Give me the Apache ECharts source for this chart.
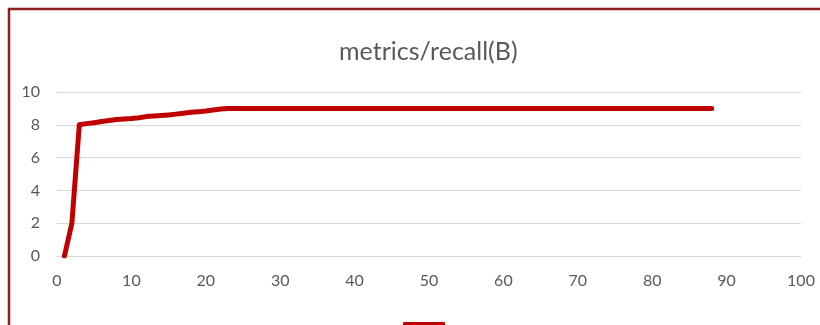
<!DOCTYPE html>
<html>
<head>
<meta charset="utf-8">
<script src="https://cdn.jsdelivr.net/npm/echarts@6/dist/echarts.min.js"></script>
<style>
  html, body { margin: 0; padding: 0; background: #fff; }
  #chart { width: 820px; height: 325px; }
</style>
</head>
<body>
<div id="chart"></div>
<script>
// Epoch numbers and recall values (scaled 0–10)
const epochs = [
  1, 2, 3, 4, 5, 6, 7, 8, 9, 10,
  11, 12, 13, 14, 15, 16, 17, 18, 19, 20,
  21, 22, 23, 24, 25, 26, 27, 28, 29, 30,
  31, 32, 33, 34, 35, 36, 37, 38, 39, 40,
  41, 42, 43, 44, 45, 46, 47, 48, 49, 50,
  51, 52, 53, 54, 55, 56, 57, 58, 59, 60,
  61, 62, 63, 64, 65, 66, 67, 68, 69, 70,
  71, 72, 73, 74, 75, 76, 77, 78, 79, 80,
  81, 82, 83, 84, 85, 86, 87, 88
];
const recall = [
  0, 2.0, 8.0, 8.07, 8.13, 8.2, 8.26, 8.32, 8.35, 8.38,
  8.43, 8.5, 8.53, 8.56, 8.6, 8.65, 8.7, 8.76, 8.8, 8.84,
  8.9, 8.96, 9.0, 9.0, 9.0, 9.0, 9.0, 9.0, 9.0, 9.0,
  9.0, 9.0, 9.0, 9.0, 9.0, 9.0, 9.0, 9.0, 9.0, 9.0,
  9.0, 9.0, 9.0, 9.0, 9.0, 9.0, 9.0, 9.0, 9.0, 9.0,
  9.0, 9.0, 9.0, 9.0, 9.0, 9.0, 9.0, 9.0, 9.0, 9.0,
  9.0, 9.0, 9.0, 9.0, 9.0, 9.0, 9.0, 9.0, 9.0, 9.0,
  9.0, 9.0, 9.0, 9.0, 9.0, 9.0, 9.0, 9.0, 9.0, 9.0,
  9.0, 9.0, 9.0, 9.0, 9.0, 9.0, 9.0, 9.0
];
const chartTitle = 'metrics/recall(B)';
const seriesName = 'metrics/recall(B)';

const points = epochs.map((e, i) => [e, recall[i]]);
const font = 'Lato, "Open Sans", sans-serif';
const labelColor = '#595959';
const gridColor = '#d9d9d9';

const chart = echarts.init(document.getElementById('chart'), null, { renderer: 'canvas' });
chart.setOption({
  animation: false,
  backgroundColor: '#ffffff',
  title: {
    text: chartTitle,
    left: 334,
    top: 34,
    textStyle: { color: labelColor, fontFamily: font, fontSize: 25, fontWeight: 'normal' }
  },
  legend: {
    data: [seriesName],
    left: 398,
    top: 317,
    icon: 'roundRect',
    itemWidth: 42,
    itemHeight: 5,
    formatter: () => '',
    textStyle: { fontSize: 1 }
  },
  grid: { left: 57, right: 19, top: 92, bottom: 69, containLabel: false },
  xAxis: {
    type: 'value',
    min: 0,
    max: 100,
    interval: 10,
    axisLine: { show: true, lineStyle: { color: gridColor, width: 1 } },
    axisTick: { show: false },
    splitLine: { show: false },
    axisLabel: { color: labelColor, fontFamily: font, fontSize: 16, margin: 17 }
  },
  yAxis: {
    type: 'value',
    min: 0,
    max: 10,
    interval: 2,
    axisLine: { show: false },
    axisTick: { show: false },
    splitLine: { show: true, lineStyle: { color: gridColor, width: 1 } },
    axisLabel: { color: labelColor, fontFamily: font, fontSize: 16, margin: 17 }
  },
  series: [{
    name: seriesName,
    type: 'line',
    data: points,
    showSymbol: false,
    symbol: 'none',
    lineStyle: { color: '#c00000', width: 5, join: 'round', cap: 'round' },
    itemStyle: { color: '#c00000' }
  }],
  graphic: [{
    type: 'rect',
    shape: { x: 9, y: 9, width: 830, height: 340 },
    style: { fill: 'none', stroke: '#8e1f22', lineWidth: 2.5 },
    silent: true,
    z: 100
  }]
});
</script>
</body>
</html>
